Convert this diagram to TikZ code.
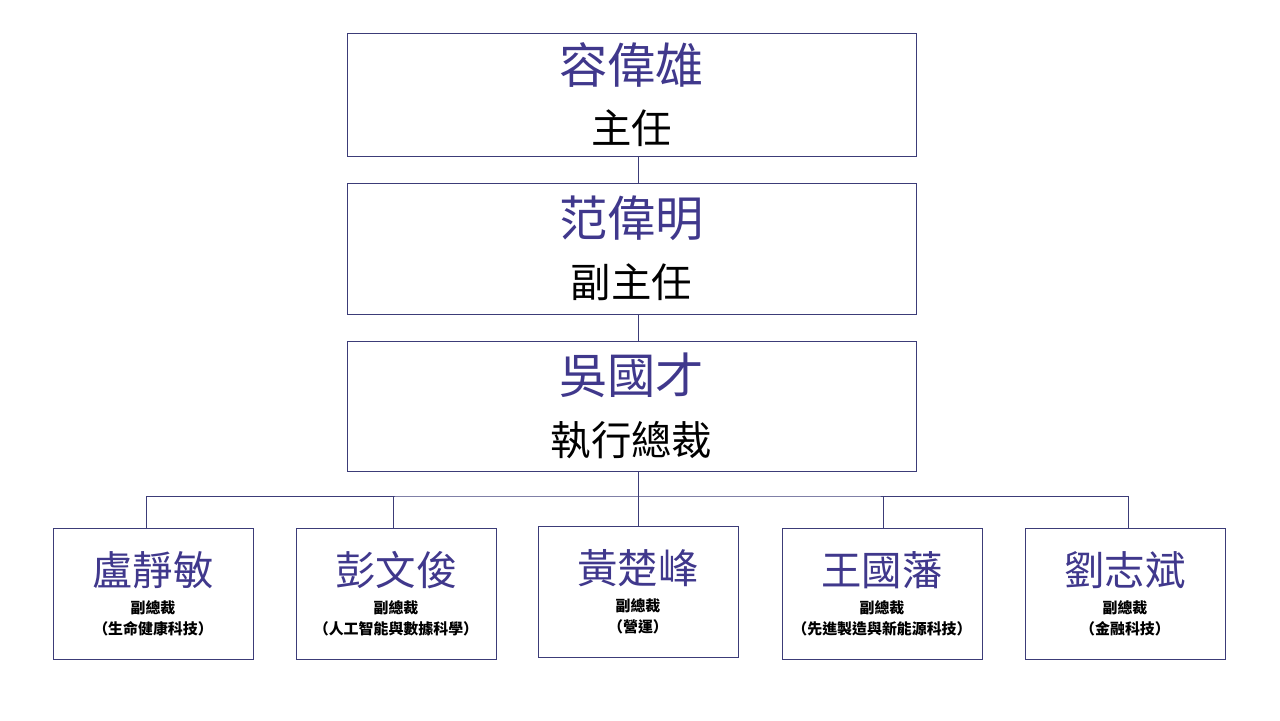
\documentclass[tikz,border=0pt]{standalone}
\usepackage{fontspec}
\setmainfont{Noto Sans CJK TC}
\definecolor{boxline}{HTML}{3C3C78}
\definecolor{namecol}{HTML}{40388C}
\tikzset{
  topbox/.style={draw=boxline, fill=white, minimum width=11.38cm, minimum height=2.5cm, align=center, inner sep=0pt},
  subbox/.style={draw=boxline, fill=white, minimum width=4cm, minimum height=2.62cm, align=center, inner sep=0pt},
  link/.style={draw=boxline, line width=0.5pt}
}
\newcommand{\bigname}[1]{{\color{namecol}\fontsize{27.5}{30}\selectfont #1}}
\newcommand{\bigtitle}[1]{{\fontsize{23}{28}\selectfont #1}}
\newcommand{\smallname}[1]{{\color{namecol}\fontsize{23}{26}\selectfont #1}}
\newcommand{\smalltitle}[1]{{\fontsize{8.5}{10.5}\selectfont\bfseries #1}}
\begin{document}
\begin{tikzpicture}[x=0.02cm, y=-0.02cm]
\useasboundingbox (0,0) rectangle (1280,720);

\node[topbox, minimum height=2.46cm] (director) at (631.5,94.5) {\bigname{容偉雄}\\[12pt]\bigtitle{主任}};
\node[topbox, minimum height=2.62cm] (deputy) at (631.5,248.5) {\bigname{范偉明}\\[12pt]\bigtitle{副主任}};
\node[topbox, minimum height=2.6cm] (ceo) at (631.5,406) {\bigname{吳國才}\\[12pt]\bigtitle{執行總裁}};

\node[subbox] (vpa) at (153,593.5) {\smallname{盧靜敏}\\[4pt]\smalltitle{副總裁}\\\smalltitle{（生命健康科技）}};
\node[subbox] (vpb) at (396,593.5) {\smallname{彭文俊}\\[4pt]\smalltitle{副總裁}\\\smalltitle{（人工智能與數據科學）}};
\node[subbox] (vpc) at (638,591.5) {\smallname{黃楚峰}\\[4pt]\smalltitle{副總裁}\\\smalltitle{（營運）}};
\node[subbox] (vpd) at (882,593.5) {\smallname{王國藩}\\[4pt]\smalltitle{副總裁}\\\smalltitle{（先進製造與新能源科技）}};
\node[subbox] (vpe) at (1125,593.5) {\smallname{劉志斌}\\[4pt]\smalltitle{副總裁}\\\smalltitle{（金融科技）}};

\coordinate (bus) at (638,496);
\draw[link] (director.south -| 638,0) -- (deputy.north -| 638,0);
\draw[link] (deputy.south -| 638,0) -- (ceo.north -| 638,0);
\draw[link] (ceo.south -| bus) -- (bus);
\draw[link] (vpa.north -| 146,0) |- (bus) -| (vpe.north -| 1128,0);
\foreach \vp/\xx in {vpb/393, vpc/638, vpd/883}
  \draw[link] (\vp.north -| \xx,0) -- (\xx,496);
\end{tikzpicture}
\end{document}
